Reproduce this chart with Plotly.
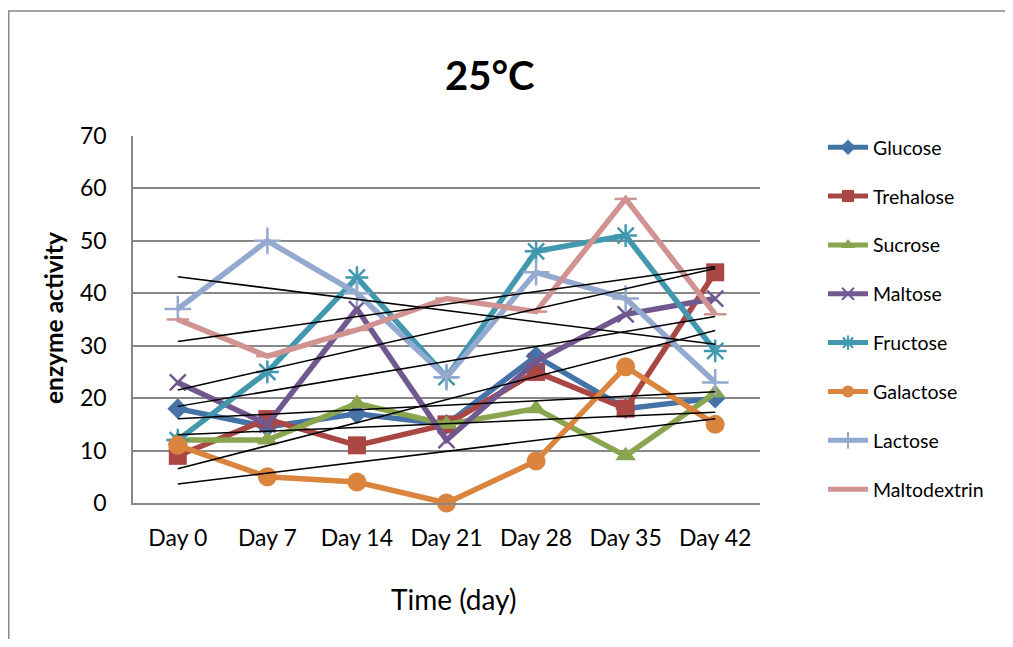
import numpy as np
import plotly.graph_objects as go

days = ["Day 0", "Day 7", "Day 14", "Day 21", "Day 28", "Day 35", "Day 42"]
glucose = [18, 14.5, 17, 15, 28, 18, 20]
trehalose = [9, 16, 11, 15, 25, 18, 44]
sucrose = [12, 12, 19, 15, 18, 9, 21]
maltose = [23, 15, 37, 12, 27, 36, 39]
fructose = [12, 25, 43, 24, 48, 51, 29]
galactose = [11, 5, 4, 0, 8, 26, 15]
lactose = [37, 50, 40, 24, 44, 39, 23]
maltodextrin = [35, 28, 33, 39, 36.5, 58, 36]

names = ["Glucose", "Trehalose", "Sucrose", "Maltose", "Fructose",
         "Galactose", "Lactose", "Maltodextrin"]
series = [glucose, trehalose, sucrose, maltose, fructose,
          galactose, lactose, maltodextrin]
colors = ["#4572A7", "#AA4643", "#89A54E", "#71588F", "#4198AF",
          "#DB843D", "#93A9CF", "#D19392"]
symbols = ["diamond", "square", "triangle-up", "x-thin-open", "asterisk-open",
           "circle", "cross-thin-open", "line-ew-open"]
sizes = [16, 18, 18, 16, 19, 19, 19, 16]

FONT = "Lato, 'Liberation Sans', sans-serif"
xs = list(range(len(days)))

fig = go.Figure()
for i, (nm, vals) in enumerate(zip(names, series)):
    open_sym = symbols[i].endswith("open")
    fig.add_trace(go.Scatter(
        x=xs, y=vals, name=nm, mode="lines+markers",
        legendgroup=nm,
        line=dict(color=colors[i], width=5.5),
        marker=dict(symbol=symbols[i], size=sizes[i], color=colors[i],
                    line=dict(color=colors[i], width=2.5 if open_sym else 0)),
        cliponaxis=False,
    ))

# linear trendlines
for i, vals in enumerate(series):
    k, b = np.polyfit(xs, vals, 1)
    fx = [xs[0], xs[-1]]
    fig.add_trace(go.Scatter(
        x=fx, y=[k * v + b for v in fx], mode="lines",
        line=dict(color="black", width=1.5), showlegend=False,
        hoverinfo="skip", cliponaxis=False,
    ))

OFF = 8  # page body margin
L, R, T, B = 133 - OFF, 760 - OFF, 136 - OFF, 503 - OFF
W, H = 1013 - 2 * OFF, 647 - 2 * OFF
pw, ph = R - L, B - T


def px(x):
    return (x - OFF - L) / pw


def py(y):
    return (B - (y - OFF)) / ph


fig.update_layout(
    width=W, height=H,
    margin=dict(l=L, r=W - R, t=T, b=H - B, pad=0),
    paper_bgcolor="white", plot_bgcolor="white",
    font=dict(family=FONT, color="black"),
    showlegend=True,
    legend=dict(x=px(823), y=py(128), xanchor="left", yanchor="top",
                font=dict(size=19.5, family=FONT), tracegroupgap=20.5,
                bgcolor="rgba(0,0,0,0)", itemwidth=40, maxheight=0.98,
                itemsizing="constant"),
    xaxis=dict(range=[-0.5, 6.5], tickvals=xs, ticktext=days,
               showgrid=False, zeroline=False, showline=True,
               linecolor="#878787", linewidth=1.5,
               tickfont=dict(size=23, family=FONT), ticks="",
               ticklabelstandoff=14),
    yaxis=dict(range=[0, 70], dtick=10, showgrid=True,
               gridcolor="#878787", gridwidth=1.5, zeroline=False,
               showline=True, linecolor="#878787", linewidth=1.5,
               tickfont=dict(size=23, family=FONT), ticks="",
               ticklabelstandoff=20),
    shapes=[
        dict(type="rect", xref="paper", yref="paper",
             x0=px(8.75), x1=px(1040), y0=py(680), y1=py(11),
             line=dict(color="#878787", width=1.5), layer="below"),
    ],
    annotations=[
        dict(text="<b>25°C</b>", x=px(489), y=py(75), xref="paper", yref="paper",
             showarrow=False, font=dict(size=40, family=FONT),
             xanchor="center", yanchor="middle"),
        dict(text="<b>enzyme activity</b>", x=px(53), y=py(318), xref="paper",
             yref="paper", showarrow=False, textangle=-90,
             font=dict(size=24.5, family=FONT), xanchor="center", yanchor="middle"),
        dict(text="Time (day)", x=px(453), y=py(599), xref="paper", yref="paper",
             showarrow=False, font=dict(size=28, family=FONT),
             xanchor="center", yanchor="middle"),
    ],
)

fig.write_html("out.html")
